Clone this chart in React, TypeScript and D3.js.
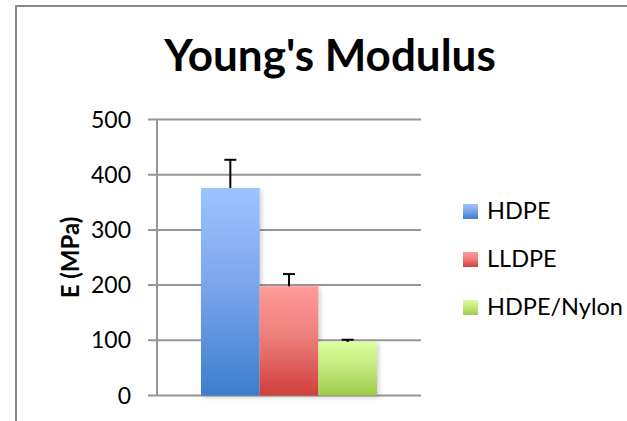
import * as d3 from "d3";

// chart data
const categories = ["Sample"];
const seriesNames = ["HDPE", "LLDPE", "HDPE/Nylon"];
const modulus = [376, 198, 97];
const errPlus = [51, 22, 4];
const yTicks = [0, 100, 200, 300, 400, 500];

// gradient stops per series: [top, middle, bottom]
const seriesColors = [
  ["#9dc3ff", "#7ea6ec", "#3d7ecd"],
  ["#ff9b99", "#ee7f7c", "#d03f3b"],
  ["#dcff9c", "#c4ea7e", "#9fca4b"],
];

const W = 627;
const H = 421;
const plotLeft = 157;
const plotRight = 421;
const plotTop = 119.5;
const plotBottom = 395.5;
const font = "Lato, 'Open Sans', sans-serif";
const gridColor = "#969696";

const App = () => {
  const y = d3.scaleLinear().domain([0, 500]).range([plotBottom, plotTop]);
  // one category, Excel-like gap width of 50%
  const xCat = d3
    .scaleBand()
    .domain(categories)
    .range([plotLeft, plotRight])
    .paddingInner(0)
    .paddingOuter(0.25);
  const xSeries = d3
    .scaleBand()
    .domain(seriesNames)
    .range([0, xCat.bandwidth()])
    .padding(0);

  const bars = seriesNames.map((name, i) => ({
    name,
    value: modulus[i],
    err: errPlus[i],
    x: (xCat(categories[0]) || 0) + (xSeries(name) || 0),
    w: xSeries.bandwidth(),
    i,
  }));

  return (
    <svg
      width={W}
      height={H}
      style={{ position: "absolute", left: 0, top: 0, background: "#fff" }}
    >
      <defs>
        {seriesColors.map((c, i) => (
          <linearGradient key={i} id={"grad" + i} x1="0" y1="0" x2="0" y2="1">
            <stop offset="0%" stopColor={c[0]} />
            <stop offset="45%" stopColor={c[1]} />
            <stop offset="100%" stopColor={c[2]} />
          </linearGradient>
        ))}
        <filter id="shadow" x="-10%" y="-10%" width="130%" height="130%">
          <feDropShadow dx="2" dy="2" stdDeviation="2" floodColor="#000" floodOpacity="0.18" />
        </filter>
      </defs>

      {/* chart border, runs off the picture right and bottom */}
      <rect x={16} y={6} width={700} height={500} fill="#fff" stroke="#8a8a8a" strokeWidth={2} />

      <text
        x={330}
        y={71}
        textAnchor="middle"
        fontFamily={font}
        fontWeight="bold"
        fontSize={44}
        fill="#000"
      >
        Young's Modulus
      </text>

      {/* gridlines + ticks */}
      {yTicks.map((t) => (
        <g key={t}>
          <line x1={148} x2={plotRight} y1={y(t)} y2={y(t)} stroke={gridColor} strokeWidth={2} />
          <text
            x={131}
            y={y(t) + 8}
            textAnchor="end"
            fontFamily={font}
            fontSize={23}
            fill="#000"
          >
            {t}
          </text>
        </g>
      ))}
      <line x1={plotLeft} x2={plotLeft} y1={plotTop} y2={plotBottom} stroke={gridColor} strokeWidth={2} />

      <text
        transform={`translate(79, ${(plotTop + plotBottom) / 2}) rotate(-90)`}
        textAnchor="middle"
        fontFamily={font}
        fontWeight="bold"
        fontSize={24}
        fill="#000"
      >
        E (MPa)
      </text>

      {/* bars */}
      <g filter="url(#shadow)">
        {bars.map((b) => (
          <rect
            key={b.name}
            x={b.x}
            y={y(b.value)}
            width={b.w}
            height={y(0) - y(b.value)}
            fill={`url(#grad${b.i})`}
          />
        ))}
      </g>

      {/* plus error bars */}
      {bars.map((b) => {
        const cx = b.x + b.w / 2;
        return (
          <g key={b.name} stroke="#000" strokeWidth={2}>
            <line x1={cx} x2={cx} y1={y(b.value)} y2={y(b.value + b.err)} />
            <line x1={cx - 6} x2={cx + 6} y1={y(b.value + b.err)} y2={y(b.value + b.err)} />
          </g>
        );
      })}

      {/* legend */}
      {seriesNames.map((name, i) => (
        <g key={name} transform={`translate(463, ${204 + i * 48})`}>
          <rect width={15} height={15} fill={`url(#grad${i})`} />
          <text x={24} y={14.5} fontFamily={font} fontSize={23.5} fill="#000">
            {name}
          </text>
        </g>
      ))}
    </svg>
  );
};

export default App;
